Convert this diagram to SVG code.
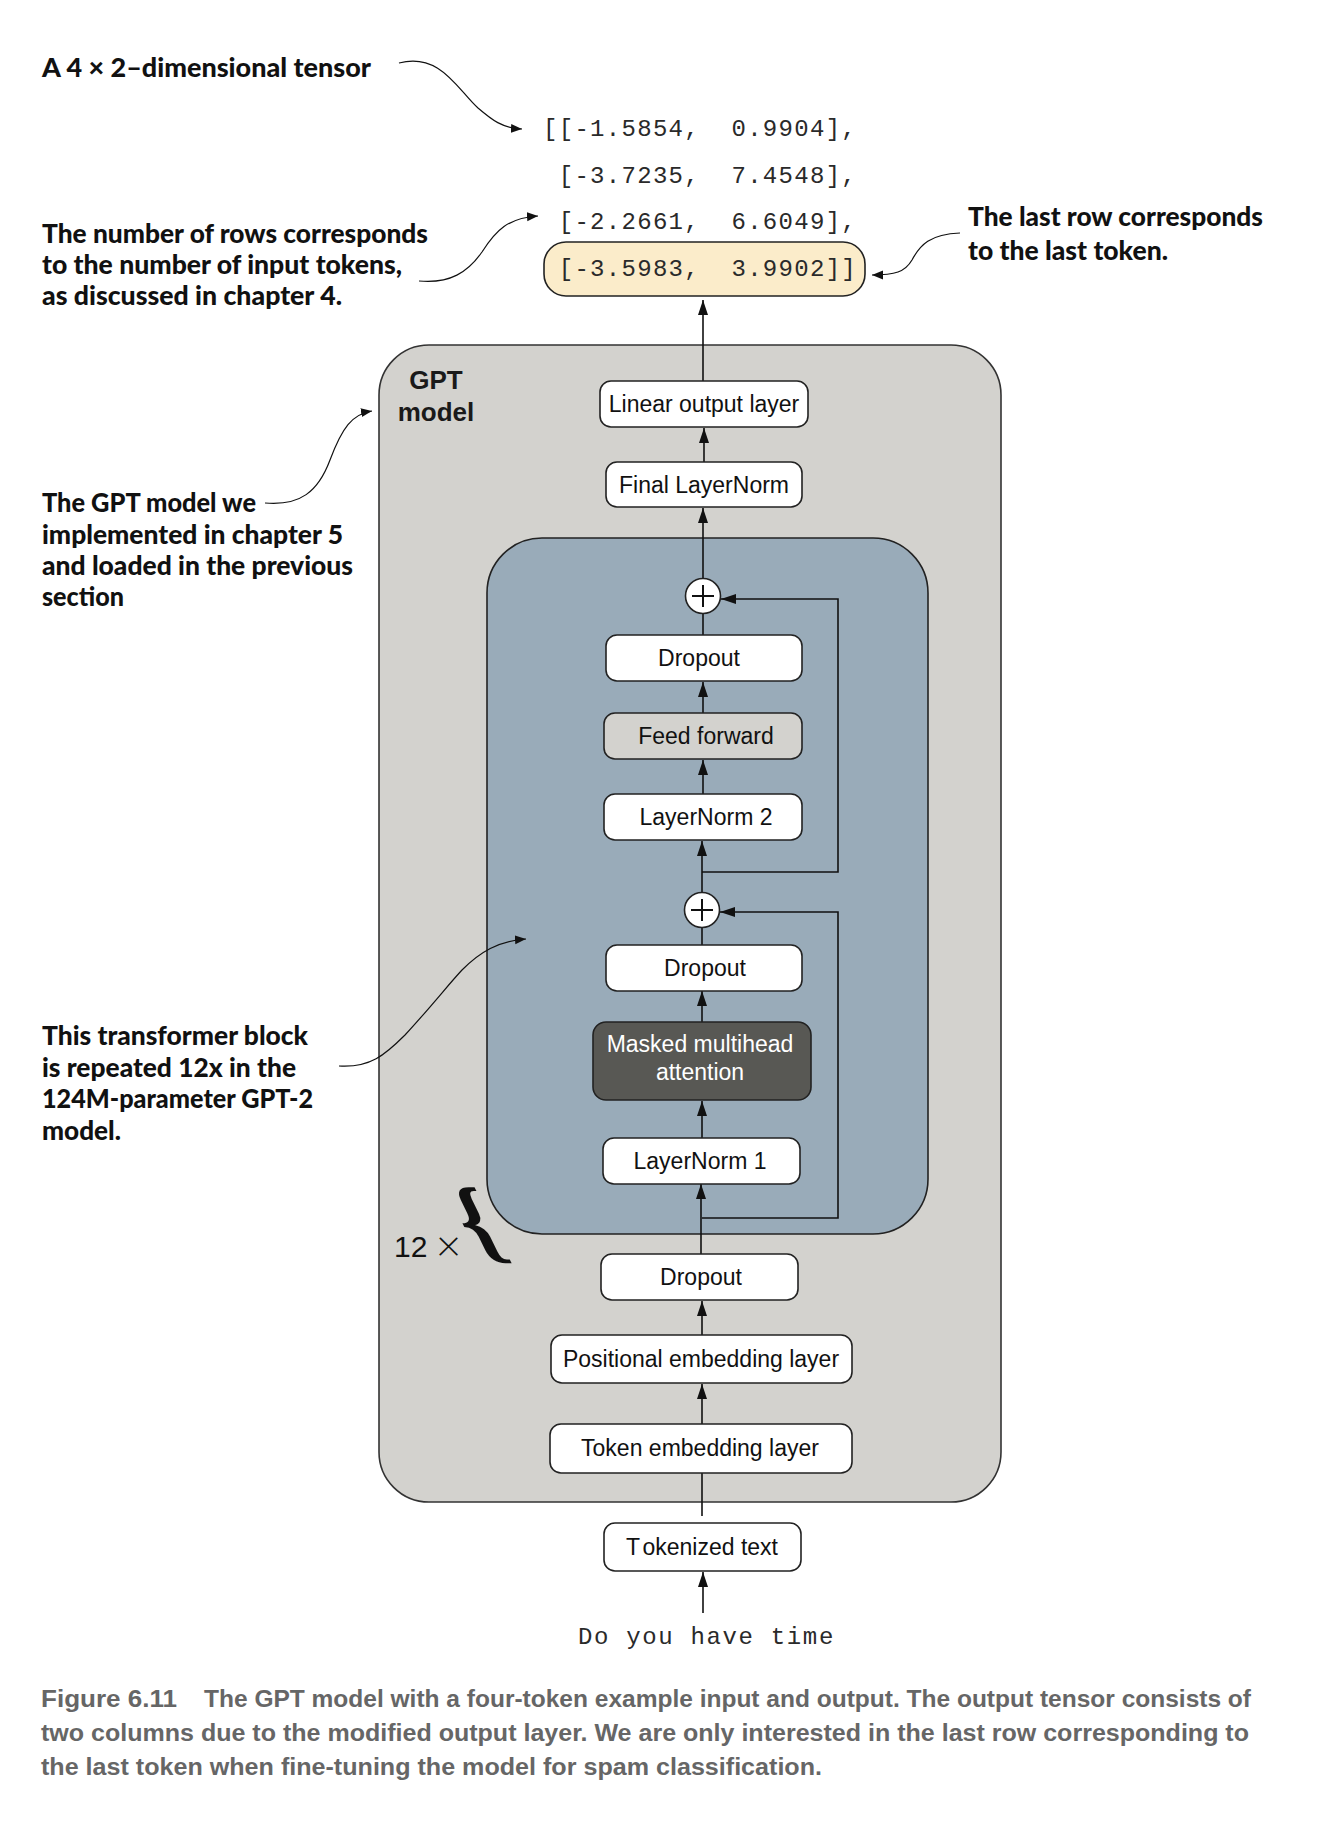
<svg xmlns="http://www.w3.org/2000/svg" width="1332" height="1822" viewBox="0 0 1332 1822">
  <defs>
    <marker id="head" markerUnits="userSpaceOnUse" markerWidth="16" markerHeight="12" refX="15" refY="6" orient="auto">
      <path d="M0,1 L15,6 L0,11 z" fill="#111"/>
    </marker>
    <marker id="tip" markerUnits="userSpaceOnUse" markerWidth="12" markerHeight="10" refX="11" refY="5" orient="auto">
      <path d="M0,0.5 L11,5 L0,9.5 z" fill="#111"/>
    </marker>
    <style>
      .note{font-family:Lato,"Open Sans","Liberation Sans",sans-serif;font-weight:900;font-size:26px;fill:#111}
      .lbl{font-family:"Liberation Sans",Arial,sans-serif;font-size:23px;fill:#111;text-anchor:middle}
      .title{font-family:"Liberation Sans",Arial,sans-serif;font-weight:700;font-size:26px;fill:#1a1a1a;text-anchor:middle}
      .mono{font-family:"Liberation Mono","Courier New",monospace;font-size:24px;letter-spacing:1.3px;fill:#2a2a2a}
      .box{fill:#fff;stroke:#222;stroke-width:1.6}
      .wire{fill:none;stroke:#111;stroke-width:1.6}
      .call{fill:none;stroke:#111;stroke-width:1.2}
      .cap{font-family:"Liberation Sans",Arial,sans-serif;font-weight:700;font-size:23px;fill:#666}
    </style>
  </defs>

  <rect width="1332" height="1822" fill="#fff"/>

  <!-- containers -->
  <g id="gpt-model">
    <rect x="379" y="345" width="622" height="1157" rx="50" fill="#d3d2ce" stroke="#333" stroke-width="1.6"/>
    <text class="title" x="436" y="389">GPT</text>
    <text class="title" x="436" y="421">model</text>
  </g>
  <g id="transformer-block">
    <rect x="487" y="538" width="441" height="696" rx="55" fill="#99abb9" stroke="#222" stroke-width="1.6"/>
  </g>
  <g id="repeat-label">
    <text x="394" y="1257" font-family="Liberation Sans, Arial, sans-serif" font-size="30" fill="#111">12 <tspan font-family="Lato, Liberation Sans, sans-serif" font-weight="300" font-size="44" dy="4">×</tspan></text>
    <text transform="translate(473,1251) skewX(26)" font-family="Liberation Serif, Times New Roman, serif" font-size="92" font-weight="700" fill="#111">{</text>
  </g>

  <!-- connectors -->
  <g id="connectors">
    <path class="wire" d="M703 381 V300" marker-end="url(#head)"/>
    <path class="wire" d="M704 462 V428" marker-end="url(#head)"/>
    <path class="wire" d="M703 578 V508" marker-end="url(#head)"/>
    <path class="wire" d="M703 614 V635"/>
    <path class="wire" d="M703 713 V682" marker-end="url(#head)"/>
    <path class="wire" d="M703 794 V760" marker-end="url(#head)"/>
    <path class="wire" d="M702 892 V841" marker-end="url(#head)"/>
    <path class="wire" d="M702 872 H838 V599 H721" marker-end="url(#head)"/>
    <path class="wire" d="M702 928 V945"/>
    <path class="wire" d="M702 1022 V991" marker-end="url(#head)"/>
    <path class="wire" d="M702 1138 V1101" marker-end="url(#head)"/>
    <path class="wire" d="M701 1254 V1184" marker-end="url(#head)"/>
    <path class="wire" d="M702 1218 H838 V912 H720" marker-end="url(#head)"/>
    <path class="wire" d="M702 1335 V1301" marker-end="url(#head)"/>
    <path class="wire" d="M702 1424 V1384" marker-end="url(#head)"/>
    <path class="wire" d="M702 1516 V1473"/>
    <path class="wire" d="M703 1613 V1572" marker-end="url(#head)"/>
    <!-- callout leaders -->
    <path class="call" d="M399 63 C440 52, 458 90, 478 108 C492 120, 502 128, 522 129" marker-end="url(#tip)"/>
    <path class="call" d="M419 281 C450 284, 468 272, 482 252 C496 230, 508 218, 538 216" marker-end="url(#tip)"/>
    <path class="call" d="M960 233 C930 234, 920 245, 912 260 C905 272, 895 275, 872 275" marker-end="url(#tip)"/>
    <path class="call" d="M265 503 C300 506, 318 492, 330 460 C342 428, 352 414, 372 411" marker-end="url(#tip)"/>
    <path class="call" d="M339 1066 C370 1068, 385 1055, 405 1035 C430 1008, 448 985, 462 970 C480 952, 498 941, 526 939" marker-end="url(#tip)"/>
  </g>

  <!-- output tensor -->
  <g id="output-tensor">
    <rect x="544" y="242" width="321" height="54" rx="22" fill="#fbecca" stroke="#222" stroke-width="1.6"/>
    <text class="mono" x="543" y="136" xml:space="preserve">[[-1.5854,  0.9904],</text>
    <text class="mono" x="543" y="183" xml:space="preserve"> [-3.7235,  7.4548],</text>
    <text class="mono" x="543" y="229" xml:space="preserve"> [-2.2661,  6.6049],</text>
    <text class="mono" x="543" y="276" xml:space="preserve"> [-3.5983,  3.9902]]</text>
  </g>

  <!-- layers -->
  <g id="linear-output">
    <rect class="box" x="600" y="381" width="208" height="46" rx="11"/>
    <text class="lbl" x="704" y="412">Linear output layer</text>
  </g>
  <g id="final-layernorm">
    <rect class="box" x="606" y="462" width="196" height="45" rx="11"/>
    <text class="lbl" x="704" y="493">Final LayerNorm</text>
  </g>
  <g id="add-2">
    <circle cx="703" cy="596" r="17.5" fill="#fff" stroke="#222" stroke-width="1.6"/>
    <path d="M692 596 H714 M703 585 V607" stroke="#111" stroke-width="2"/>
  </g>
  <g id="dropout-2">
    <rect class="box" x="606" y="635" width="196" height="46" rx="11"/>
    <text class="lbl" x="699" y="666">Dropout</text>
  </g>
  <g id="feed-forward">
    <rect x="604" y="713" width="198" height="46" rx="11" fill="#d3d2ce" stroke="#222" stroke-width="1.6"/>
    <text class="lbl" x="706" y="744">Feed forward</text>
  </g>
  <g id="layernorm-2">
    <rect class="box" x="604" y="794" width="198" height="46" rx="11"/>
    <text class="lbl" x="706" y="825">LayerNorm 2</text>
  </g>
  <g id="add-1">
    <circle cx="702" cy="910" r="17.5" fill="#fff" stroke="#222" stroke-width="1.6"/>
    <path d="M691 910 H713 M702 899 V921" stroke="#111" stroke-width="2"/>
  </g>
  <g id="dropout-1">
    <rect class="box" x="606" y="945" width="196" height="46" rx="11"/>
    <text class="lbl" x="705" y="976">Dropout</text>
  </g>
  <g id="attention">
    <rect x="593" y="1022" width="218" height="78" rx="13" fill="#585854" stroke="#222" stroke-width="1.6"/>
    <text class="lbl" x="700" y="1052" style="fill:#fff">Masked multihead</text>
    <text class="lbl" x="700" y="1080" style="fill:#fff">attention</text>
  </g>
  <g id="layernorm-1">
    <rect class="box" x="603" y="1138" width="197" height="46" rx="11"/>
    <text class="lbl" x="700" y="1169">LayerNorm 1</text>
  </g>
  <g id="dropout-emb">
    <rect class="box" x="601" y="1254" width="197" height="46" rx="11"/>
    <text class="lbl" x="701" y="1285">Dropout</text>
  </g>
  <g id="positional-embedding">
    <rect class="box" x="551" y="1335" width="301" height="48" rx="11"/>
    <text class="lbl" x="701" y="1367">Positional embedding layer</text>
  </g>
  <g id="token-embedding">
    <rect class="box" x="550" y="1424" width="302" height="49" rx="11"/>
    <text class="lbl" x="700" y="1456">Token embedding layer</text>
  </g>
  <g id="tokenized-text">
    <rect class="box" x="604" y="1523" width="197" height="48" rx="11"/>
    <text class="lbl" x="702" y="1555"><tspan>T</tspan><tspan dx="5">okenized text</tspan></text>
  </g>
  <g id="input-text">
    <text class="mono" x="578" y="1644" style="letter-spacing:1.66px" xml:space="preserve">Do you have time</text>
  </g>

  <!-- annotations -->
  <g id="note-tensor">
    <text class="note" x="42" y="77" textLength="329" lengthAdjust="spacingAndGlyphs">A 4 × 2–dimensional tensor</text>
  </g>
  <g id="note-rows">
    <text class="note" x="42" y="243" textLength="386" lengthAdjust="spacingAndGlyphs">The number of rows corresponds</text>
    <text class="note" x="42" y="274" textLength="360" lengthAdjust="spacingAndGlyphs">to the number of input tokens,</text>
    <text class="note" x="42" y="305" textLength="300" lengthAdjust="spacingAndGlyphs">as discussed in chapter 4.</text>
  </g>
  <g id="note-last-row">
    <text class="note" x="968" y="226" textLength="295" lengthAdjust="spacingAndGlyphs">The last row corresponds</text>
    <text class="note" x="968" y="260" textLength="200" lengthAdjust="spacingAndGlyphs">to the last token.</text>
  </g>
  <g id="note-gpt">
    <text class="note" x="42" y="512" textLength="214" lengthAdjust="spacingAndGlyphs">The GPT model we</text>
    <text class="note" x="42" y="544" textLength="301" lengthAdjust="spacingAndGlyphs">implemented in chapter 5</text>
    <text class="note" x="42" y="575" textLength="311" lengthAdjust="spacingAndGlyphs">and loaded in the previous</text>
    <text class="note" x="42" y="606" textLength="82" lengthAdjust="spacingAndGlyphs">section</text>
  </g>
  <g id="note-block">
    <text class="note" x="42" y="1045" textLength="266" lengthAdjust="spacingAndGlyphs">This transformer block</text>
    <text class="note" x="42" y="1077" textLength="254" lengthAdjust="spacingAndGlyphs">is repeated 12x in the</text>
    <text class="note" x="42" y="1108" textLength="271" lengthAdjust="spacingAndGlyphs">124M-parameter GPT-2</text>
    <text class="note" x="42" y="1140" textLength="79" lengthAdjust="spacingAndGlyphs">model.</text>
  </g>

  <!-- caption -->
  <g id="caption">
    <text class="cap" x="41" y="1707" textLength="136" lengthAdjust="spacingAndGlyphs">Figure 6.11</text>
    <text class="cap" x="204" y="1707" textLength="1047" lengthAdjust="spacingAndGlyphs">The GPT model with a four-token example input and output. The output tensor consists of</text>
    <text class="cap" x="41" y="1741" textLength="1208" lengthAdjust="spacingAndGlyphs">two columns due to the modified output layer. We are only interested in the last row corresponding to</text>
    <text class="cap" x="41" y="1775" textLength="781" lengthAdjust="spacingAndGlyphs">the last token when fine-tuning the model for spam classification.</text>
  </g>
</svg>
